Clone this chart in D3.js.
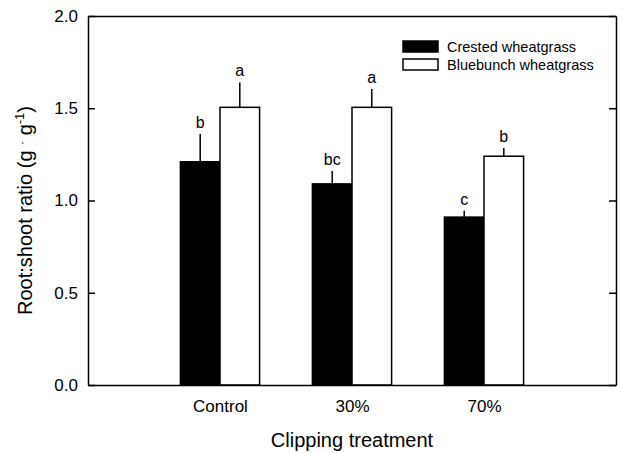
<!DOCTYPE html>
<html>
<head>
<meta charset="utf-8">
<script src="https://cdn.jsdelivr.net/npm/d3@7"></script>
<style>
  body { margin: 0; background: #fff; }
  text { font-family: "Liberation Sans", Arial, sans-serif; fill: #000; }
</style>
</head>
<body>
<div id="chart"></div>
<script>
var treatments = ["Control", "30%", "70%"];
var species = ["Crested wheatgrass", "Bluebunch wheatgrass"];
var crestedMean = [1.21, 1.09, 0.91];
var crestedErr = [0.15, 0.07, 0.035];
var crestedLetter = ["b", "bc", "c"];
var bluebunchMean = [1.505, 1.505, 1.24];
var bluebunchErr = [0.135, 0.10, 0.045];
var bluebunchLetter = ["a", "a", "b"];
var yTicks = [0, 0.5, 1.0, 1.5, 2.0];

var fullWidth = 622, fullHeight = 453;
var margin = {top: 16, right: 6, bottom: 68, left: 88};
var width = fullWidth - margin.left - margin.right;
var height = fullHeight - margin.top - margin.bottom;

var x = d3.scaleLinear().domain([0, 4]).range([0, width]);
var y = d3.scaleLinear().domain([0, 2]).range([height, 0]);
var barW = x(0.3) - x(0);

var svg = d3.select("#chart")
  .append("svg")
    .attr("width", fullWidth)
    .attr("height", fullHeight)
  .append("g")
    .attr("transform", "translate(" + margin.left + "," + margin.top + ")");

var series = [
  {name: species[0], mean: crestedMean, err: crestedErr, letter: crestedLetter, fill: "#000", off: -1},
  {name: species[1], mean: bluebunchMean, err: bluebunchErr, letter: bluebunchLetter, fill: "#fff", off: 0}
];

series.forEach(function(s) {
  var g = svg.append("g");
  treatments.forEach(function(t, i) {
    var x0 = x(i + 1) + s.off * barW;
    var cx = x0 + barW / 2;
    g.append("line")
      .attr("x1", cx).attr("x2", cx)
      .attr("y1", y(s.mean[i])).attr("y2", y(s.mean[i] + s.err[i]))
      .attr("stroke", "#000").attr("stroke-width", 1.5);
    g.append("rect")
      .attr("x", x0).attr("y", y(s.mean[i]))
      .attr("width", barW).attr("height", height - y(s.mean[i]))
      .attr("fill", s.fill).attr("stroke", "#000").attr("stroke-width", 1.5);
    g.append("text")
      .attr("x", cx).attr("y", y(s.mean[i] + s.err[i]) - 6)
      .attr("text-anchor", "middle")
      .style("font-size", "16px")
      .text(s.letter[i]);
  });
});

// axes
var yAxisL = svg.append("g")
  .call(d3.axisLeft(y).tickValues(yTicks).tickFormat(d3.format(".1f")).tickSizeInner(-7).tickSizeOuter(0).tickPadding(10));
var yAxisR = svg.append("g")
  .attr("transform", "translate(" + width + ",0)")
  .call(d3.axisRight(y).tickValues(yTicks).tickFormat("").tickSizeInner(-7).tickSizeOuter(0));
var xAxisB = svg.append("g")
  .attr("transform", "translate(0," + height + ")")
  .call(d3.axisBottom(x).tickValues([1, 2, 3]).tickFormat(function(d) { return treatments[d - 1]; }).tickSize(0).tickPadding(15));
var xAxisT = svg.append("g")
  .call(d3.axisTop(x).tickValues([]).tickSizeOuter(0));

[yAxisL, yAxisR, xAxisB, xAxisT].forEach(function(a) {
  a.selectAll("path, line").attr("stroke", "#000").attr("stroke-width", 1.5);
});
yAxisL.selectAll("text").style("font-size", "17px").style("font-family", "Liberation Sans, Arial, sans-serif");
xAxisB.selectAll("text").style("font-size", "17px").style("font-family", "Liberation Sans, Arial, sans-serif");

// titles
svg.append("text")
  .attr("x", width / 2).attr("y", height + 62)
  .attr("text-anchor", "middle")
  .style("font-size", "20px")
  .text("Clipping treatment");

var yt = svg.append("text")
  .attr("transform", "translate(-56," + (height / 2 + 10) + ") rotate(-90)")
  .attr("text-anchor", "middle")
  .style("font-size", "20px");
yt.append("tspan").text("Root:shoot ratio (g ");
yt.append("tspan").attr("dy", -6).style("font-size", "12px").text("·");
yt.append("tspan").attr("dy", 6).text(" g");
yt.append("tspan").attr("dy", -8).style("font-size", "13px").text("-1");
yt.append("tspan").attr("dy", 8).text(")");

// legend
var legend = svg.append("g").attr("transform", "translate(315,25)");
series.forEach(function(s, i) {
  legend.append("rect")
    .attr("x", 0).attr("y", i * 18)
    .attr("width", 35).attr("height", 11)
    .attr("fill", s.fill).attr("stroke", "#000").attr("stroke-width", 1.5);
  legend.append("text")
    .attr("x", 44).attr("y", i * 18 + 11)
    .style("font-size", "14.5px")
    .text(s.name);
});
</script>
</body>
</html>
